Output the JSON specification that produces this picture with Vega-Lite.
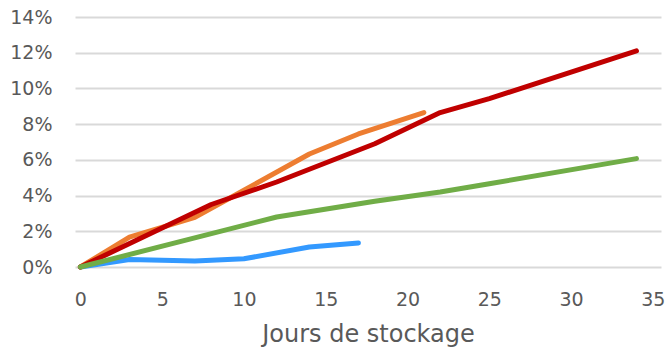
{
  "$schema": "https://vega.github.io/schema/vega-lite/v6.json",
  "width": 586,
  "height": 250,
  "autosize": {"type": "none"},
  "padding": {"left": 75, "top": 17, "right": 9, "bottom": 85},
  "background": "white",
  "config": {"view": {"stroke": null}, "font": "DejaVu Sans"},
  "data": {
    "values": [
      {"serie": "A", "jours": 0, "v": 0},
      {"serie": "A", "jours": 3, "v": 0.0042},
      {"serie": "A", "jours": 7, "v": 0.0033},
      {"serie": "A", "jours": 10, "v": 0.0046},
      {"serie": "A", "jours": 14, "v": 0.0112},
      {"serie": "A", "jours": 17, "v": 0.0135},
      {"serie": "B", "jours": 0, "v": 0},
      {"serie": "B", "jours": 3, "v": 0.0167},
      {"serie": "B", "jours": 7, "v": 0.0278},
      {"serie": "B", "jours": 10, "v": 0.043},
      {"serie": "B", "jours": 14, "v": 0.0633},
      {"serie": "B", "jours": 17, "v": 0.0745},
      {"serie": "B", "jours": 21, "v": 0.0865},
      {"serie": "C", "jours": 0, "v": 0},
      {"serie": "C", "jours": 8, "v": 0.035},
      {"serie": "C", "jours": 12, "v": 0.0476},
      {"serie": "C", "jours": 18, "v": 0.069},
      {"serie": "C", "jours": 22, "v": 0.0865},
      {"serie": "C", "jours": 25, "v": 0.0943},
      {"serie": "C", "jours": 34, "v": 0.121},
      {"serie": "D", "jours": 0, "v": 0},
      {"serie": "D", "jours": 12, "v": 0.028},
      {"serie": "D", "jours": 18, "v": 0.0368},
      {"serie": "D", "jours": 22, "v": 0.042},
      {"serie": "D", "jours": 25, "v": 0.0466},
      {"serie": "D", "jours": 34, "v": 0.0607}
    ]
  },
  "mark": {"type": "line", "strokeWidth": 5, "strokeCap": "round", "strokeJoin": "round"},
  "encoding": {
    "x": {
      "field": "jours",
      "type": "quantitative",
      "scale": {"domain": [-0.33, 35.5], "nice": false, "zero": false},
      "axis": {
        "title": "Jours de stockage",
        "values": [0, 5, 10, 15, 20, 25, 30, 35],
        "grid": false,
        "domain": false,
        "ticks": false,
        "tickSize": 0,
        "labelPadding": 23,
        "labelFontSize": 19,
        "labelColor": "#595959",
        "labelFlush": false,
        "titleFontSize": 24,
        "titleFontWeight": "normal",
        "titleColor": "#595959",
        "titlePadding": 13
      }
    },
    "y": {
      "field": "v",
      "type": "quantitative",
      "scale": {"domain": [0, 0.14], "nice": false},
      "axis": {
        "title": null,
        "values": [0, 0.02, 0.04, 0.06, 0.08, 0.1, 0.12, 0.14],
        "format": ".0%",
        "domain": false,
        "ticks": false,
        "tickSize": 0,
        "labelPadding": 23,
        "labelFontSize": 19,
        "labelColor": "#595959",
        "gridColor": "#D9D9D9",
        "gridWidth": 2,
        "labelFlush": false
      }
    },
    "color": {
      "field": "serie",
      "type": "nominal",
      "scale": {"domain": ["A", "B", "C", "D"], "range": ["#3399FF", "#ED7D31", "#C00000", "#70AD47"]},
      "legend": null
    }
  }
}
